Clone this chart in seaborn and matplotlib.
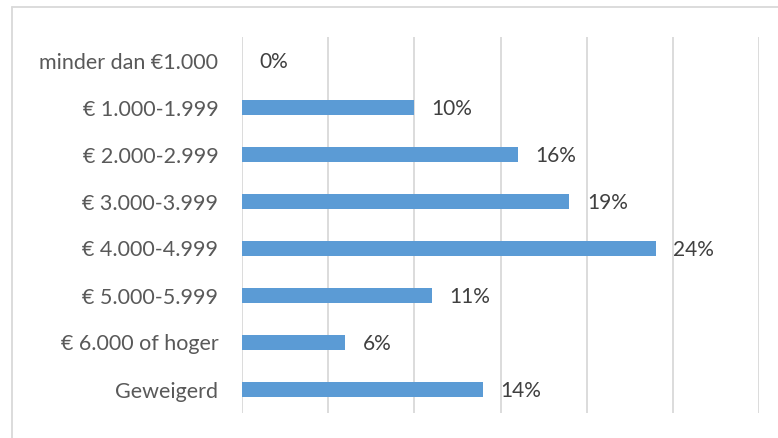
import matplotlib
matplotlib.use("Agg")
import matplotlib.pyplot as plt
from matplotlib.lines import Line2D
import seaborn as sns
import pandas as pd

categories = [
    "minder dan €1.000",
    "€ 1.000-1.999",
    "€ 2.000-2.999",
    "€ 3.000-3.999",
    "€ 4.000-4.999",
    "€ 5.000-5.999",
    "€ 6.000 of hoger",
    "Geweigerd",
]
percentages = [0, 10, 16, 19, 24, 11, 6, 14]
grid_ticks = [0, 5, 10, 15, 20, 25, 30]

df = pd.DataFrame({"categorie": categories, "pct": percentages})

sns.set_theme(style="white")
plt.rcParams["font.family"] = ["Lato", "DejaVu Sans"]

fig = plt.figure(figsize=(7.78, 4.38), dpi=100)
ax = fig.add_axes([242 / 778, 1 - 413 / 438, (759 - 242) / 778, (413 - 37) / 438])

sns.barplot(data=df, x="pct", y="categorie", orient="h", color="#5b9bd5",
            saturation=1, width=0.34, linewidth=0, ax=ax)

ax.set_xlim(0, 30)
ax.set_ylim(len(categories) - 0.5, -0.5)
ax.set_xticks(grid_ticks)
ax.set_xticklabels([])
ax.tick_params(axis="x", length=0)
ax.tick_params(axis="y", length=0, pad=17, labelsize=15.5, labelcolor="#595959")
ax.grid(axis="x", color="#d9d9d9", linewidth=1.3)
ax.set_axisbelow(True)
ax.set_xlabel("")
ax.set_ylabel("")
for s in ax.spines.values():
    s.set_visible(False)

for i, v in enumerate(percentages):
    ax.annotate(f"{v}%", xy=(v, i), xytext=(12.5, -1), textcoords="offset points",
                ha="left", va="center", fontsize=15, color="#404040")

# outer frame of the chart area (top and left edges)
fig.add_artist(Line2D([12 / 778, 1], [1 - 7 / 438, 1 - 7 / 438],
                      transform=fig.transFigure, color="#d9d9d9", linewidth=1.3))
fig.add_artist(Line2D([12 / 778, 12 / 778], [0, 1 - 7 / 438],
                      transform=fig.transFigure, color="#d9d9d9", linewidth=1.3))

fig.savefig("out.png", dpi=100)
